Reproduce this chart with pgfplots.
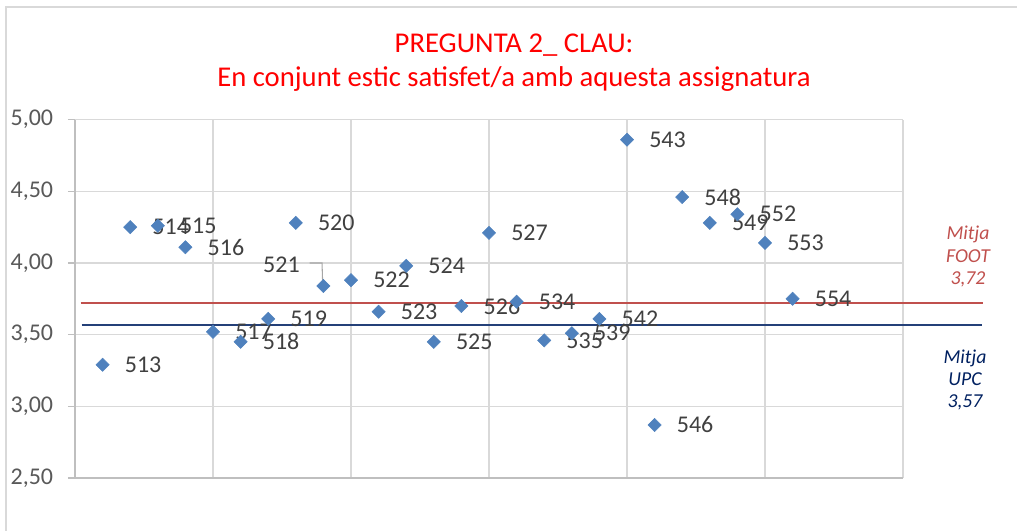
\documentclass[border=0pt]{standalone}
\usepackage{fontspec}
\setmainfont{Carlito}
\usepackage{pgfplots}
\pgfplotsset{compat=1.18}
\definecolor{gridgray}{RGB}{217,217,217}
\definecolor{axgray}{RGB}{191,191,191}
\definecolor{ticktext}{RGB}{89,89,89}
\definecolor{lbltext}{RGB}{64,64,64}
\definecolor{mblue}{RGB}{79,129,189}
\definecolor{foot}{RGB}{192,80,77}
\definecolor{upcline}{RGB}{36,64,120}
\definecolor{upctext}{RGB}{0,32,96}
\begin{document}
\begin{tikzpicture}
\useasboundingbox (0,0) rectangle (762.75pt,398.25pt);
\draw[gridgray, line width=1.1pt] (4.5pt,0) -- (4.5pt,393pt) -- (762.75pt,393pt);
\node[anchor=base, text=red, font=\fontsize{21.5}{24}\selectfont, inner sep=0] at (385.5pt,358.5pt) {PREGUNTA 2\_ CLAU:};
\node[anchor=base, text=red, font=\fontsize{21.5}{24}\selectfont, inner sep=0] at (385.5pt,333pt) {En conjunt estic satisfet/a amb aquesta assignatura};
\begin{scope}[font=\fontsize{14.8}{16}\selectfont\itshape]
\node[anchor=base, text=foot, inner sep=0] at (726pt,218.25pt) {Mitja};
\node[anchor=base, text=foot, inner sep=0] at (726pt,201.5pt) {FOOT};
\node[anchor=base, text=foot, inner sep=0] at (726pt,184.5pt) {3,72};
\node[anchor=base, text=upctext, inner sep=0] at (723.75pt,125.8pt) {Mitja};
\node[anchor=base, text=upctext, inner sep=0] at (723.75pt,109pt) {UPC};
\node[anchor=base, text=upctext, inner sep=0] at (723.75pt,92.25pt) {3,57};
\end{scope}
\begin{axis}[
  at={(56.25pt,39.75pt)}, anchor=south west,
  scale only axis, width=621pt, height=268.75pt,
  xmin=0, xmax=30, ymin=2.5, ymax=5,
  axis lines=left, axis line style={axgray, line width=1.1pt, -},
  xtick={5,10,15,20,25,30}, xticklabels={},
  xtick style={draw=none},
  ytick={2.5,3,3.5,4,4.5,5},
  ytick style={axgray, line width=1.1pt},
  tick align=outside, major tick length=5.25pt,
  grid=major, major grid style={gridgray, line width=0.9pt},
  yticklabel style={text=ticktext, font=\fontsize{18}{18}\selectfont, anchor=east, inner sep=0pt, xshift=-11pt},
  /pgf/number format/.cd, fixed, fixed zerofill, precision=2, use comma, assume math mode=true,
  /pgfplots/.cd,
  clip=false,
]
\addplot[foot, line width=1.5pt, no marks] coordinates {(0.2,3.72) (32.9,3.72)};
\addplot[upcline, line width=1.5pt, no marks] coordinates {(0.24,3.57) (32.85,3.57)};
\addplot[only marks, mark=square*, mark size=3.5pt, mark options={rotate=45, fill=mblue, draw=mblue}] coordinates {(9,3.84)};
\draw[gray!70, line width=0.8pt] (axis cs:8.5,4.0) -- (axis cs:8.95,4.0) -- (axis cs:8.97,3.88);
\node[anchor=east, inner sep=0, text=lbltext, font=\fontsize{18}{18}\selectfont] at (axis cs:8.15,3.984) {521};
\addplot[only marks, mark=square*, mark size=3.5pt, mark options={rotate=45, fill=mblue, draw=mblue},
  point meta=explicit symbolic,
  nodes near coords,
  nodes near coords style={anchor=west, inner sep=0pt, xshift=16.5pt, text=lbltext, font=\fontsize{18}{18}\selectfont}]
coordinates {
(1,3.29) [513]
(2,4.25) [514]
(3,4.26) [515]
(4,4.11) [516]
(5,3.52) [517]
(6,3.45) [518]
(7,3.61) [519]
(8,4.28) [520]
(10,3.88) [522]
(11,3.66) [523]
(12,3.98) [524]
(13,3.45) [525]
(14,3.70) [526]
(15,4.21) [527]
(16,3.73) [534]
(17,3.46) [535]
(18,3.51) [539]
(19,3.61) [542]
(20,4.86) [543]
(21,2.87) [546]
(22,4.46) [548]
(23,4.28) [549]
(24,4.34) [552]
(25,4.14) [553]
(26,3.75) [554]
};
\end{axis}
\end{tikzpicture}
\end{document}
